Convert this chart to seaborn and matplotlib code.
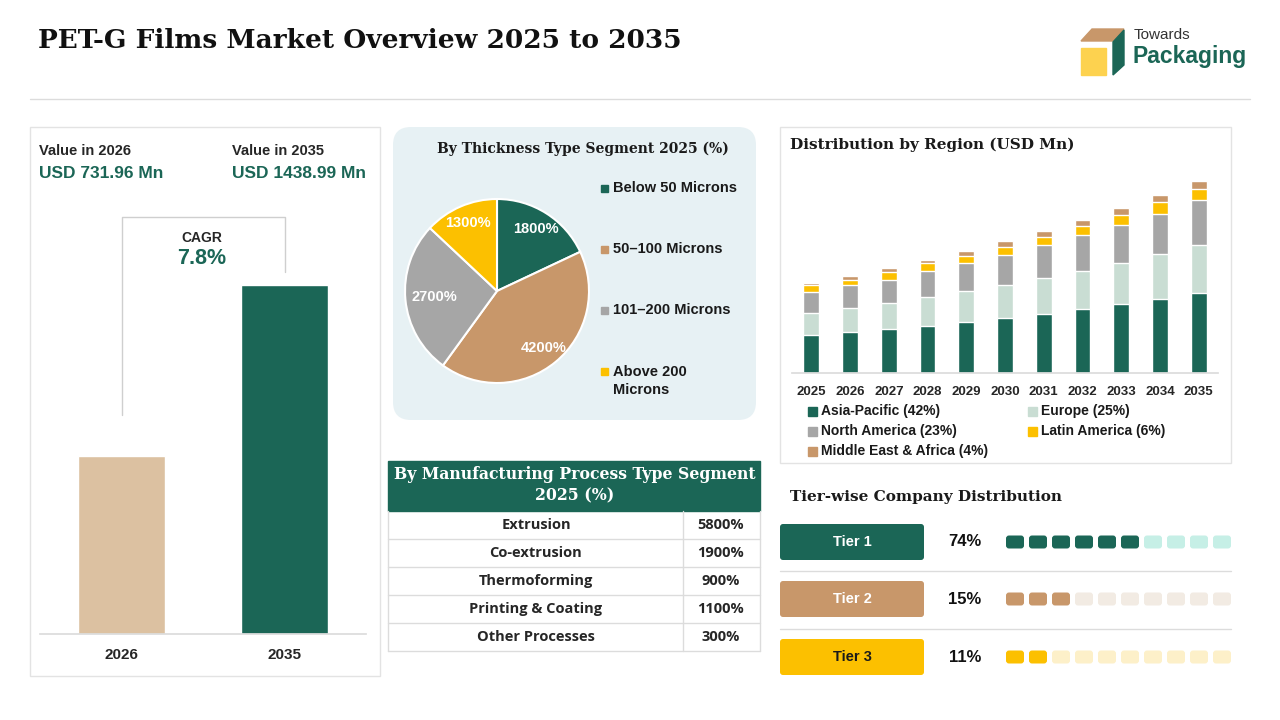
import matplotlib
matplotlib.use("Agg")
import matplotlib.pyplot as plt
from matplotlib.patches import FancyBboxPatch, Rectangle, Polygon
import pandas as pd
import seaborn as sns

# colours
GREEN = "#1b6656"
TAN = "#c8976a"
BEIGE = "#dcc1a1"
GRAY = "#a6a6a6"
LIGHT_GREEN = "#c9ddd3"
YELLOW = "#fcc000"
LINE = "#dcdcdc"

# ---- data ----
value_years = ["2026", "2035"]
market_values = [731.96, 1438.99]
cagr_text = "7.8%"

thickness_labels = ["Below 50 Microns", "50\u2013100 Microns", "101\u2013200 Microns", "Above 200\nMicrons"]
thickness_share = [18, 42, 27, 13]

process_labels = ["Extrusion", "Co-extrusion", "Thermoforming", "Printing & Coating", "Other Processes"]
process_share = [58, 19, 9, 11, 3]

region_years = ["2025", "2026", "2027", "2028", "2029", "2030", "2031", "2032", "2033", "2034", "2035"]
region_names = ["Asia-Pacific (42%)", "Europe (25%)", "North America (23%)",
                "Latin America (6%)", "Middle East & Africa (4%)"]
asia_pacific = [285, 308, 330, 353, 383, 413, 443, 481, 518, 556, 601]
europe = [165, 180, 195, 218, 230, 248, 270, 285, 308, 338, 358]
north_america = [155, 168, 175, 190, 208, 220, 243, 265, 280, 300, 338]
latin_america = [53, 43, 55, 60, 58, 65, 65, 73, 80, 90, 83]
middle_east_africa = [15, 30, 33, 28, 35, 43, 45, 45, 50, 50, 60]

tiers = ["Tier 1", "Tier 2", "Tier 3"]
tier_share = [74, 15, 11]
tier_filled = [6, 3, 2]

sns.set_theme(style="white")
plt.rcParams["font.family"] = ["Liberation Sans", "DejaVu Sans"]
SERIF = "DejaVu Serif"

W, H = 1280, 720
fig = plt.figure(figsize=(12.8, 7.2), dpi=100)
fig.patch.set_facecolor("white")
bg = fig.add_axes([0, 0, 1, 1])
bg.set_xlim(0, W)
bg.set_ylim(H, 0)
bg.axis("off")


def add_ax(x0, y0, x1, y1):
    ax = fig.add_axes([x0 / W, 1 - y1 / H, (x1 - x0) / W, (y1 - y0) / H])
    ax.set_facecolor("none")
    return ax


# ---- header ----
bg.text(38, 41, "PET-G Films Market Overview 2025 to 2035", fontsize=19, fontweight="bold",
        family=SERIF, va="center", color="#111111")
bg.add_patch(Polygon([(1081, 41), (1092, 29), (1124, 29), (1113, 41)], color=TAN))
bg.add_patch(Polygon([(1113, 42), (1124, 30), (1124, 65), (1113, 75)], color=GREEN))
bg.add_patch(Rectangle((1081, 48), 25, 27, color="#fdd24f"))
bg.text(1134, 35, "Towards", fontsize=11, color="#333333", va="center")
bg.text(1133, 57, "Packaging", fontsize=16.5, fontweight="bold", color=GREEN, va="center")
bg.plot([30, 1250], [99, 99], color=LINE, lw=1)

# ---- left panel: value bars ----
bg.add_patch(Rectangle((30, 127), 350, 549, fill=False, ec="#e3e3e3", lw=1))
bg.text(39, 151, "Value in 2026", fontsize=10.5, fontweight="bold", va="center")
bg.text(39, 174, f"USD {market_values[0]} Mn", fontsize=12.5, fontweight="bold", color=GREEN, va="center")
bg.text(232, 151, "Value in 2035", fontsize=10.5, fontweight="bold", va="center")
bg.text(232, 174, f"USD {market_values[1]} Mn", fontsize=12.5, fontweight="bold", color=GREEN, va="center")
bg.plot([122, 122, 285, 285], [415, 217, 217, 272], color="#cfcfcf", lw=1)
bg.text(202, 238, "CAGR", fontsize=10, fontweight="bold", ha="center", va="center")
bg.text(202, 259, cagr_text, fontsize=15.5, fontweight="bold", color=GREEN, ha="center", va="center")

ax1 = add_ax(40, 260, 366, 634)
sns.barplot(x=value_years, y=market_values, hue=value_years, palette=[BEIGE, GREEN],
            legend=False, width=0.53, saturation=1, errorbar=None, ax=ax1)
ax1.set_xlim(-0.5, 1.5)
ax1.set_ylim(0, 1542)
ax1.set_yticks([])
for s in ["top", "left", "right"]:
    ax1.spines[s].set_visible(False)
ax1.spines["bottom"].set_color(LINE)
ax1.tick_params(axis="x", length=0, pad=10, labelsize=11)
for t in ax1.get_xticklabels():
    t.set_fontweight("bold")

# ---- middle: thickness pie ----
bg.add_patch(FancyBboxPatch((393, 127), 363, 293, boxstyle="round,pad=0,rounding_size=18",
                            fc="#e7f1f4", ec="none"))
bg.text(583, 149, "By Thickness Type Segment 2025 (%)", fontsize=10, fontweight="bold",
        family=SERIF, ha="center", va="center", color="#1a1a1a")
ax2 = add_ax(397, 191, 597, 391)
pie_colors = [GREEN, TAN, GRAY, YELLOW]
wedges, _, autotexts = ax2.pie(thickness_share, colors=pie_colors, startangle=90, counterclock=False,
                               wedgeprops=dict(edgecolor="white", linewidth=1.5),
                               autopct=lambda p: f"{p * 100:.0f}%", pctdistance=0.8,
                               textprops=dict(color="white", fontweight="bold", fontsize=10.5))
# the grey slice label sits a little closer to the centre in the reference
gx, gy = autotexts[2].get_position()
autotexts[2].set_position((gx * 0.85, gy * 0.85))
ax2.set_xlim(-1.087, 1.087)
ax2.set_ylim(-1.087, 1.087)
for lab, col, y in zip(thickness_labels, pie_colors, [188, 249, 310, 381]):
    yy = 371 if "\n" in lab else y
    bg.add_patch(Rectangle((601, yy - 3.5), 7, 7, color=col))
    bg.text(613, y, lab, fontsize=10.5, fontweight="bold", va="center", linespacing=1.45,
            color="#1a1a1a")

# ---- middle: process table ----
bg.add_patch(Rectangle((388, 461), 372, 50, color=GREEN))
bg.text(575, 485, "By Manufacturing Process Type Segment\n2025 (%)", fontsize=11.3, fontweight="bold",
        family=SERIF, color="white", ha="center", va="center", linespacing=1.3)
row_h = 28
for i, (name, val) in enumerate(zip(process_labels, process_share)):
    yc = 511 + row_h * i + row_h / 2
    bg.text(536, yc, name, fontsize=10.5, fontweight="bold", family="Open Sans", ha="center", va="center")
    bg.text(721, yc, f"{val * 100}%", fontsize=10.5, fontweight="bold", family="Open Sans",
            ha="center", va="center")
    bg.plot([388, 760], [511 + row_h * (i + 1)] * 2, color=LINE, lw=1)
bg.plot([683, 683], [511, 651], color=LINE, lw=1)
bg.plot([388, 388], [511, 651], color=LINE, lw=1)
bg.plot([760, 760], [511, 651], color=LINE, lw=1)

# ---- right: stacked region bars ----
bg.add_patch(Rectangle((780, 127), 451, 336, fill=False, ec="#e3e3e3", lw=1))
bg.text(790, 145, "Distribution by Region (USD Mn)", fontsize=11, fontweight="bold",
        family=SERIF, va="center", color="#1a1a1a")
df = pd.DataFrame({"year": region_years, region_names[0]: asia_pacific, region_names[1]: europe,
                   region_names[2]: north_america, region_names[3]: latin_america,
                   region_names[4]: middle_east_africa})
cum = df[region_names].cumsum(axis=1)
region_colors = [GREEN, LIGHT_GREEN, GRAY, YELLOW, TAN]
ax3 = add_ax(792, 165, 1218, 373)
for name, col in reversed(list(zip(region_names, region_colors))):
    sns.barplot(x=df["year"], y=cum[name], color=col, width=0.41, saturation=1, errorbar=None, ax=ax3)
ax3.set_xlim(-0.5, 10.5)
ax3.set_ylim(0, 1559)
ax3.set_xlabel("")
ax3.set_ylabel("")
ax3.set_yticks([])
for s in ["top", "left", "right"]:
    ax3.spines[s].set_visible(False)
ax3.spines["bottom"].set_color(LINE)
ax3.tick_params(axis="x", length=0, pad=9, labelsize=9.5)
for t in ax3.get_xticklabels():
    t.set_fontweight("bold")
legend_pos = [(812, 411), (1032, 411), (812, 431), (1032, 431), (812, 451)]
for name, col, (lx, ly) in zip(region_names, region_colors, legend_pos):
    bg.add_patch(Rectangle((lx - 4.5, ly - 4.5), 9, 9, color=col))
    bg.text(lx + 9, ly, name, fontsize=10, fontweight="bold", va="center", color="#1a1a1a")

# ---- right: tier distribution ----
bg.text(790, 497, "Tier-wise Company Distribution", fontsize=11, fontweight="bold",
        family=SERIF, va="center", color="#1a1a1a")
tier_colors = [GREEN, TAN, YELLOW]
tier_light = ["#c6efe6", "#f2ebe3", "#fdf0c9"]
tier_text = ["white", "white", "#1a1a1a"]
tier_y = [542, 599, 657]
for i, tier in enumerate(tiers):
    yc = tier_y[i]
    bg.add_patch(FancyBboxPatch((780, yc - 18), 144, 36, boxstyle="round,pad=0,rounding_size=3",
                                fc=tier_colors[i], ec="none"))
    bg.text(852, yc, tier, fontsize=10.5, fontweight="bold", color=tier_text[i], ha="center", va="center")
    bg.text(965, yc, f"{tier_share[i]}%", fontsize=12, fontweight="bold", ha="center", va="center",
            color="#111111")
    for j in range(10):
        fc = tier_colors[i] if j < tier_filled[i] else tier_light[i]
        bg.add_patch(FancyBboxPatch((1006 + 23 * j, yc - 6.5), 18, 13,
                                    boxstyle="round,pad=0,rounding_size=3", fc=fc, ec="none"))
for y in [571, 629]:
    bg.plot([780, 1231], [y, y], color=LINE, lw=1)

fig.savefig("out.png", dpi=100, facecolor="white")
